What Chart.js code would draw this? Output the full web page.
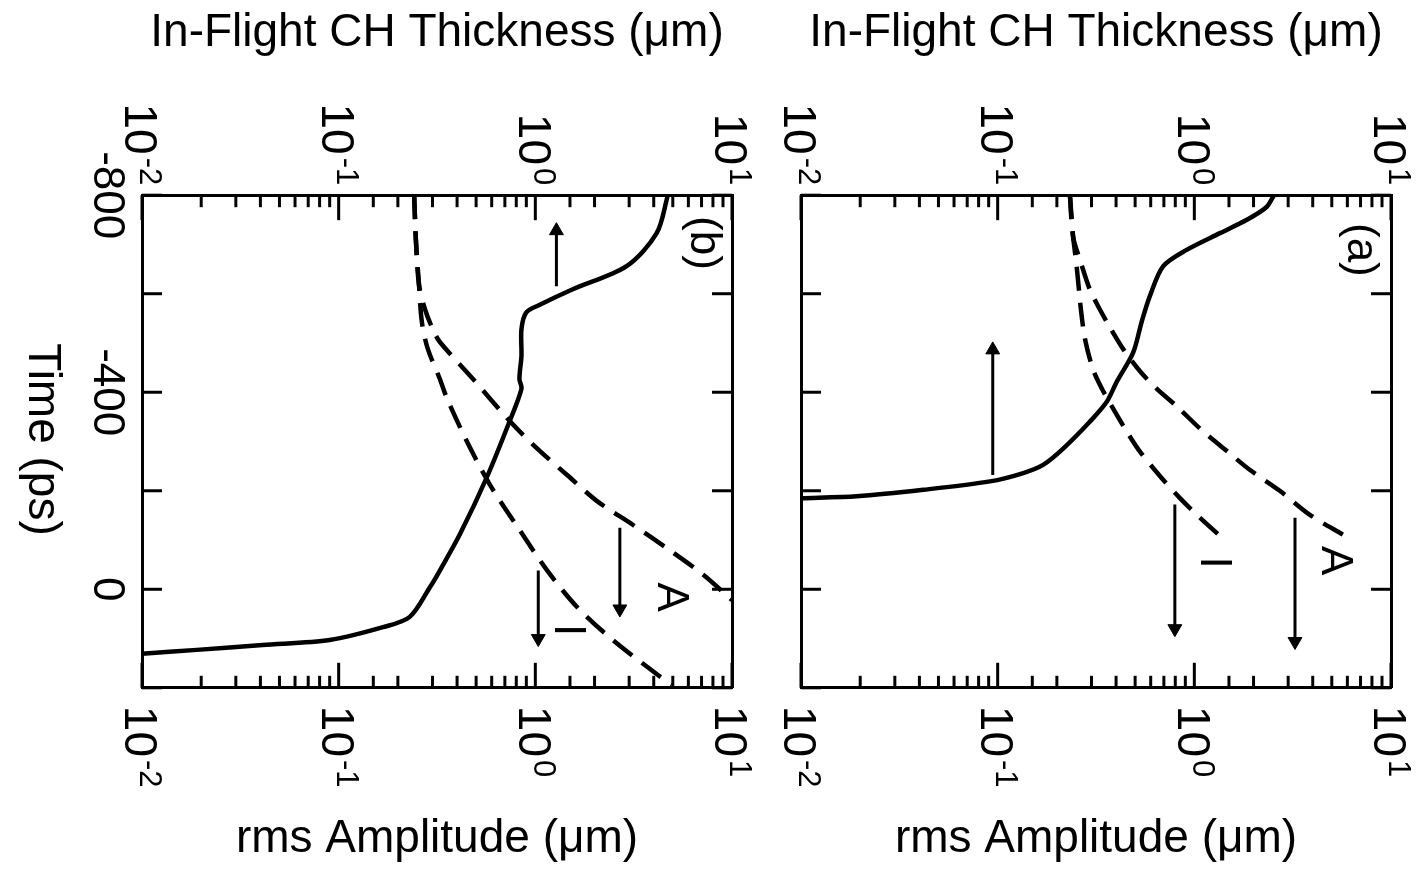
<!DOCTYPE html>
<html>
<head>
<meta charset="utf-8">
<script src="https://cdn.jsdelivr.net/npm/chart.js@4.4.0/dist/chart.umd.min.js"></script>
<style>
body { margin: 0; background: #fff; }
#wrap { position: relative; width: 1419px; height: 873px; overflow: hidden; }
#chartB { position: absolute; left: 0; top: 0; }
#chartA { position: absolute; left: 766px; top: 0; }
</style>
</head>
<body>
<div id="wrap">
  <canvas id="chartB" width="766" height="873"></canvas>
  <canvas id="chartA" width="653" height="873"></canvas>
</div>
<script>
// tick labels
var logTicks = [0.01, 0.1, 1, 10];
var logExps = ['-2', '-1', '0', '1'];
var timeTicks = [-800, -400, 0];

// panel (b)
var bSolidX = [4.72, 4.14, 2.91, 1.55, 1.06, 0.90, 0.85, 0.85, 0.83, 0.85, 0.74, 0.565, 0.414, 0.327, 0.291, 0.230, 0.168, 0.090, 0.041, 0.019, 0.01];
var bSolidT = [-800, -723, -656, -609, -578, -562, -528, -474, -427, -407, -341, -226, -112, -38, -4, 56, 77, 103, 113, 123, 131];
var bAX = [0.242, 0.247, 0.256, 0.275, 0.301, 0.327, 0.482, 0.743, 1.02, 1.45, 2.06, 3.13, 4.83, 7.11, 10];
var bAT = [-800, -709, -619, -568, -528, -502, -427, -341, -286, -232, -179, -131, -79, -30, 22];
var bIX = [0.242, 0.247, 0.256, 0.265, 0.284, 0.327, 0.356, 0.449, 0.588, 0.836, 1.15, 1.63, 2.48, 4.30, 4.95];
var bIT = [-800, -709, -619, -542, -488, -427, -387, -300, -212, -119, -38, 36, 103, 177, 193];
var bArrowX = [1.28, 2.69, 1.035];
var bArrowFrom = [-615, -125, -38];
var bArrowTo = [-728, 40, 100];
var bNotes = ['A', 'I', '(b)'];
var bNoteX = [4.83, 1.45, 7.1];
var bNoteT = [16, 83, -703];

// panel (a)
var aSolidX = [2.54, 2.33, 1.85, 1.35, 0.914, 0.695, 0.594, 0.539, 0.489, 0.403, 0.358, 0.294, 0.216, 0.171, 0.135, 0.0914, 0.0419, 0.0192, 0.01];
var aSolidT = [-800, -776, -750, -723, -689, -656, -595, -542, -481, -421, -380, -340, -286, -253, -236, -219, -202, -189, -185];
var aAX = [0.233, 0.242, 0.262, 0.294, 0.331, 0.372, 0.434, 0.528, 0.645, 0.817, 1.07, 1.47, 1.92, 2.72, 3.87, 5.69];
var aAT = [-800, -715, -669, -609, -568, -532, -488, -443, -407, -371, -326, -280, -242, -200, -151, -111];
var aIX = [0.233, 0.242, 0.250, 0.256, 0.265, 0.278, 0.305, 0.339, 0.386, 0.444, 0.528, 0.668, 0.845, 1.07, 1.38];
var aIT = [-800, -715, -669, -629, -568, -508, -447, -407, -367, -326, -280, -230, -185, -145, -105];
var aArrowX = [0.0944, 0.796, 3.25];
var aArrowFrom = [-232, -172, -145];
var aArrowTo = [-486, 80, 106];
var aNotes = ['A', 'I', '(a)'];
var aNoteX = [5.13, 1.24, 6.95];
var aNoteT = [-58, -54, -689];

var FONT = '"Liberation Sans", Arial, Helvetica, sans-serif';

function pts(xs, ts) {
    return xs.map(function (x, i) { return { x: x, y: ts[i] }; });
}

function curve(xs, ts, dashed) {
    return {
        data: pts(xs, ts),
        borderColor: '#000',
        borderWidth: 4.5,
        borderDash: dashed ? [24, 12] : [],
        pointRadius: 0,
        tension: 0.3,
        fill: false
    };
}

function arrows(xs, from, to) {
    return xs.map(function (x, i) {
        return {
            data: [{ x: x, y: from[i] }, { x: x, y: to[i] }],
            borderColor: '#000',
            borderWidth: 3,
            pointRadius: [0, 8],
            pointStyle: 'triangle',
            pointRotation: to[i] < from[i] ? 0 : 180,
            pointBackgroundColor: '#000',
            pointBorderColor: '#000',
            pointBorderWidth: 1,
            tension: 0
        };
    });
}

function line(ctx, x1, y1, x2, y2) {
    ctx.beginPath();
    ctx.moveTo(x1, y1);
    ctx.lineTo(x2, y2);
    ctx.stroke();
}

// text turned a quarter clockwise, as in the scan
function rotText(ctx, txt, x, y, size, align) {
    ctx.save();
    ctx.translate(x, y);
    ctx.rotate(Math.PI / 2);
    ctx.font = size + 'px ' + FONT;
    ctx.textAlign = align;
    ctx.textBaseline = 'middle';
    ctx.fillText(txt, 0, 0);
    ctx.restore();
}

function powLabel(ctx, px, y, exp, atTop) {
    ctx.save();
    ctx.translate(px, y);
    ctx.rotate(Math.PI / 2);
    ctx.textBaseline = 'middle';
    ctx.textAlign = 'left';
    ctx.font = '46px ' + FONT;
    var w1 = ctx.measureText('10').width;
    ctx.font = '31px ' + FONT;
    var w2 = ctx.measureText(exp).width;
    var start = atTop ? -(w1 + w2 + 3) : 0;
    ctx.font = '46px ' + FONT;
    ctx.fillText('10', start, 4);
    ctx.font = '31px ' + FONT;
    ctx.fillText(exp, start + w1 + 3, -7);
    ctx.restore();
}

function makeChart(id, datasets, notes, noteX, noteT, showTime, padLeft, padRight) {
    var framePlugin = {
        id: 'frame',
        afterDraw: function (chart) {
            var ctx = chart.ctx, area = chart.chartArea;
            var xb = chart.scales.x, xt = chart.scales.x2, yl = chart.scales.y;
            ctx.save();
            ctx.strokeStyle = '#000';
            ctx.fillStyle = '#000';
            ctx.lineWidth = 3;
            xb.ticks.forEach(function (t) {
                var lg = Math.log10(t.value);
                var len = Math.abs(lg - Math.round(lg)) < 1e-6 ? 25 : 12;
                var p1 = xb.getPixelForValue(t.value);
                var p2 = xt.getPixelForValue(t.value);
                line(ctx, p1, area.bottom, p1, area.bottom - len);
                line(ctx, p2, area.top, p2, area.top + len);
            });
            yl.ticks.forEach(function (t) {
                var py = yl.getPixelForValue(t.value);
                line(ctx, area.left, py, area.left + 20, py);
                line(ctx, area.right, py, area.right - 20, py);
            });
            logTicks.forEach(function (v, i) {
                powLabel(ctx, xt.getPixelForValue(v), area.top - 10, logExps[i], true);
                powLabel(ctx, xb.getPixelForValue(v), area.bottom + 18, logExps[i], false);
            });
            if (showTime) {
                timeTicks.forEach(function (v) {
                    rotText(ctx, String(v), 106, yl.getPixelForValue(v), 44, 'center');
                });
                rotText(ctx, 'Time (ps)', 42, (area.top + area.bottom) / 2 - 2, 46, 'center');
            }
            notes.forEach(function (txt, i) {
                rotText(ctx, txt, xb.getPixelForValue(noteX[i]), yl.getPixelForValue(noteT[i]), 44, 'center');
            });
            ctx.restore();
        }
    };

    var border = { display: true, width: 3, color: '#000' };
    var titleFont = { family: FONT, size: 46 };

    return new Chart(document.getElementById(id).getContext('2d'), {
        type: 'line',
        data: { datasets: datasets },
        options: {
            responsive: false,
            animation: false,
            layout: { padding: { left: padLeft, right: padRight, top: 0, bottom: 2 } },
            plugins: { legend: { display: false }, tooltip: { enabled: false } },
            scales: {
                x: {
                    type: 'logarithmic', position: 'bottom', min: 0.01, max: 10,
                    grid: { display: false, drawTicks: false },
                    ticks: { display: false },
                    border: border,
                    title: { display: true, text: 'rms Amplitude (\u03bcm)', color: '#000', font: titleFont, padding: { top: 124, bottom: 4 } }
                },
                x2: {
                    type: 'logarithmic', position: 'top', min: 0.01, max: 10,
                    grid: { display: false, drawTicks: false },
                    ticks: { display: false },
                    border: border,
                    title: { display: true, text: 'In-Flight CH Thickness (\u03bcm)', color: '#000', font: titleFont, padding: { top: 6, bottom: 134 } }
                },
                y: {
                    type: 'linear', position: 'left', reverse: true, min: -800, max: 200,
                    grid: { display: false, drawTicks: false },
                    ticks: { display: false, stepSize: 200 },
                    border: border
                },
                y2: {
                    type: 'linear', position: 'right', reverse: true, min: -800, max: 200,
                    grid: { display: false, drawTicks: false },
                    ticks: { display: false, stepSize: 200 },
                    border: border
                }
            }
        },
        plugins: [framePlugin]
    });
}

var chartB = makeChart('chartB',
    [curve(bSolidX, bSolidT, false), curve(bAX, bAT, true), curve(bIX, bIT, true)].concat(arrows(bArrowX, bArrowFrom, bArrowTo)),
    bNotes, bNoteX, bNoteT, true, 142, 34);

var chartA = makeChart('chartA',
    [curve(aSolidX, aSolidT, false), curve(aAX, aAT, true), curve(aIX, aIT, true)].concat(arrows(aArrowX, aArrowFrom, aArrowTo)),
    aNotes, aNoteX, aNoteT, false, 35, 28);
</script>
</body>
</html>
